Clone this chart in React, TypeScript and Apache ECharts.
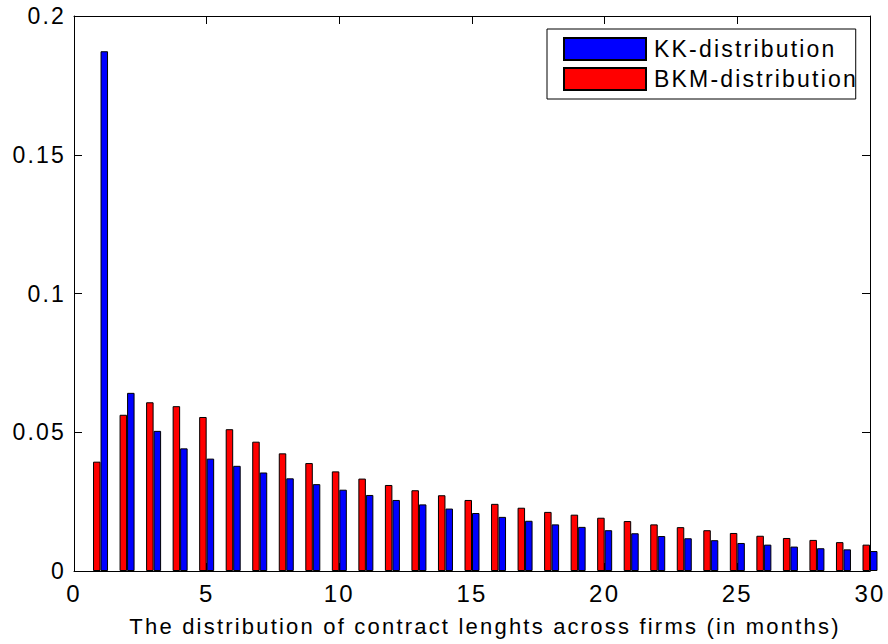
import React, { useEffect, useRef } from "react";
import * as echarts from "echarts";

const months = [
  1, 2, 3, 4, 5, 6, 7, 8, 9, 10, 11, 12, 13, 14, 15, 16, 17, 18, 19, 20, 21,
  22, 23, 24, 25, 26, 27, 28, 29, 30,
];

const kkValues = [
  0.1873, 0.0642, 0.0505, 0.0442, 0.0405, 0.0379, 0.0355, 0.0334, 0.0313,
  0.0293, 0.0274, 0.0256, 0.024, 0.0225, 0.0209, 0.0195, 0.0181, 0.0168,
  0.0159, 0.0147, 0.0136, 0.0126, 0.0118, 0.0111, 0.0101, 0.0095, 0.0088,
  0.0082, 0.0078, 0.0072,
];

const bkmValues = [
  0.0394, 0.0563, 0.0608, 0.0594, 0.0555, 0.0511, 0.0466, 0.0424, 0.0389,
  0.0359, 0.0333, 0.031, 0.0291, 0.0273, 0.0256, 0.0242, 0.0228, 0.0213,
  0.0203, 0.0192, 0.018, 0.0168, 0.0158, 0.0147, 0.0137, 0.0127, 0.0119,
  0.0112, 0.0104, 0.0095,
];

const seriesNames = ["KK-distribution", "BKM-distribution"];
const xAxisTitle =
  "The distribution of contract lenghts across firms (in months)";

export default function App() {
  const ref = useRef<HTMLDivElement>(null);

  useEffect(() => {
    if (!ref.current) return;
    const chart = echarts.init(ref.current, null, { renderer: "svg" });
    const font = "Liberation Sans, Arial, Helvetica, sans-serif";
    const baseAxis = {
      min: 0,
      axisLine: { show: true, onZero: false, lineStyle: { color: "#000", width: 1 } },
      axisTick: { show: true, inside: true, length: 8, lineStyle: { color: "#000" } },
      splitLine: { show: false },
    };
    chart.setOption({
      animation: false,
      backgroundColor: "#fff",
      textStyle: { fontFamily: font, color: "#000" },
      grid: {
        left: 74,
        right: 18,
        top: 16,
        bottom: 73,
        containLabel: false,
        outerBoundsMode: "none",
      },
      legend: {
        orient: "vertical",
        left: 547,
        top: 29,
        data: seriesNames,
        itemWidth: 82,
        itemHeight: 22,
        itemGap: 6,
        padding: [8, 33, 8, 16],
        borderColor: "#000",
        borderWidth: 1,
        backgroundColor: "#fff",
        icon: "rect",
        textStyle: { fontSize: 23, color: "#000", fontFamily: font, padding: [0, 0, 0, 3] },
      },
      xAxis: [
        {
          ...baseAxis,
          type: "value",
          max: 30,
          interval: 5,
          position: "bottom",
          name: xAxisTitle,
          nameLocation: "middle",
          nameGap: 44,
          nameMoveOverlap: false,
          nameTextStyle: {
            fontSize: 22,
            color: "#000",
            fontFamily: font,
            padding: [0, 0, 0, 26],
          },
          axisLabel: { fontSize: 24, color: "#000", margin: 10, fontFamily: font },
        },
        {
          ...baseAxis,
          type: "value",
          max: 30,
          interval: 5,
          position: "top",
          axisLabel: { show: false },
        },
      ],
      yAxis: [
        {
          ...baseAxis,
          type: "value",
          max: 0.2,
          interval: 0.05,
          position: "left",
          axisLabel: { fontSize: 23, color: "#000", margin: 8, fontFamily: font },
        },
        {
          ...baseAxis,
          type: "value",
          max: 0.2,
          interval: 0.05,
          position: "right",
          axisLabel: { show: false },
        },
      ],
      series: [
        {
          name: seriesNames[1],
          type: "bar",
          xAxisIndex: 0,
          yAxisIndex: 0,
          barWidth: 7.5,
          barGap: "0%",
          itemStyle: { color: "#ff0000", borderColor: "#000", borderWidth: 1 },
          data: months.map((m, i) => [m, bkmValues[i]]),
        },
        {
          name: seriesNames[0],
          type: "bar",
          xAxisIndex: 0,
          yAxisIndex: 0,
          barWidth: 7.5,
          barGap: "0%",
          itemStyle: { color: "#0000ff", borderColor: "#000", borderWidth: 1 },
          data: months.map((m, i) => [m, kkValues[i]]),
        },
      ],
    });
    return () => chart.dispose();
  }, []);

  return (
    <div
      ref={ref}
      style={{
        position: "fixed",
        left: 0,
        top: 0,
        width: 888,
        height: 644,
        letterSpacing: "2.2px",
        background: "#fff",
      }}
    />
  );
}
